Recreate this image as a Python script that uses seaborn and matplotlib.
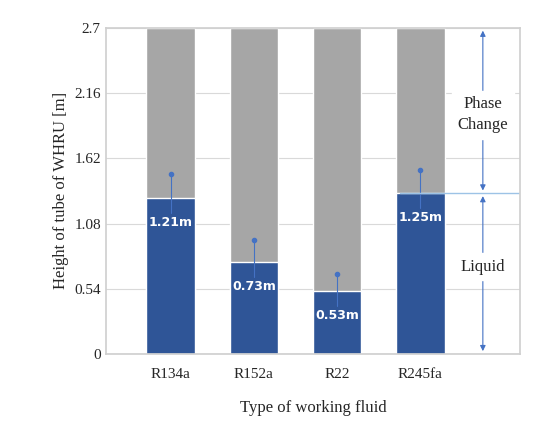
import matplotlib
matplotlib.use("Agg")
import matplotlib.pyplot as plt
import seaborn as sns
import pandas as pd

fluids = ["R134a", "R152a", "R22", "R245fa"]
liquid = [1.29, 0.76, 0.52, 1.33]
labels = ["1.21m", "0.73m", "0.53m", "1.25m"]
pin_top = [1.49, 0.94, 0.66, 1.52]
total = 2.7
yticks = [0, 0.54, 1.08, 1.62, 2.16, 2.7]

sns.set_theme(style="white")
plt.rcParams["font.family"] = ["Liberation Serif", "DejaVu Serif"]
fig, ax = plt.subplots(figsize=(5.42, 4.29), dpi=100)
fig.subplots_adjust(left=0.195, right=0.96, top=0.935, bottom=0.175)

df = pd.DataFrame({"fluid": fluids, "total": [total]*4, "liquid": liquid})
sns.barplot(data=df, x="fluid", y="total", color="#a6a6a6", width=0.58, ax=ax, saturation=1)
sns.barplot(data=df, x="fluid", y="liquid", color="#2f5597", width=0.58, ax=ax, saturation=1)

for i, (l, p, t) in enumerate(zip(liquid, pin_top, labels)):
    ax.plot([i, i], [l - 0.12, p], color="#4472c4", lw=0.8)
    ax.plot(i, p, "o", color="#4472c4", ms=3)
    ax.text(i, l - 0.2, t, color="white", ha="center", va="center", fontsize=9,
            fontweight="bold", family="DejaVu Sans")

ax.set_xlim(-0.78, 4.2)
ax.set_ylim(0, 2.7)
ax.set_yticks(yticks)
ax.set_yticklabels(["0", "0.54", "1.08", "1.62", "2.16", "2.7"])
ax.yaxis.grid(True, color="#d9d9d9", lw=0.8)
ax.set_axisbelow(True)
for s in ax.spines.values():
    s.set_color("#d0d0d0")
ax.tick_params(axis="both", labelsize=11, length=0)
ax.tick_params(axis="x", pad=10)
ax.set_xlabel("Type of working fluid", fontsize=12, labelpad=14)
ax.set_ylabel("Height of tube of WHRU [m]", fontsize=12)

xa = 3.75
ax.plot([2.75, 4.2], [1.33, 1.33], color="#9dc3e6", lw=1)
ax.annotate("", xy=(xa, 2.7), xytext=(xa, 1.33),
            arrowprops=dict(arrowstyle="<|-|>", color="#4472c4", lw=0.8, mutation_scale=8))
ax.annotate("", xy=(xa, 1.33), xytext=(xa, 0),
            arrowprops=dict(arrowstyle="<|-|>", color="#4472c4", lw=0.8, mutation_scale=8))
ax.text(xa, 1.98, "Phase\nChange", ha="center", va="center", fontsize=12,
        backgroundcolor="white", linespacing=1.4)
ax.text(xa, 0.72, "Liquid", ha="center", va="center", fontsize=12, backgroundcolor="white")

fig.savefig("out.png", dpi=100)
